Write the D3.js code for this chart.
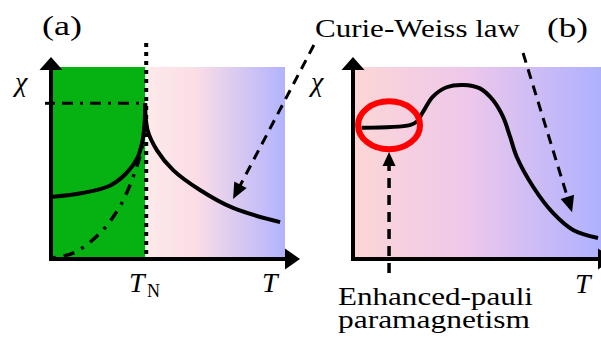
<!DOCTYPE html>
<html>
<head>
<meta charset="utf-8">
<script src="https://cdn.jsdelivr.net/npm/d3@7"></script>
<style>
  body { margin: 0; background: #fff; }
</style>
</head>
<body>
<div class="dataviz"></div>
<script>
// schematic values, both axes on a 0..100 scale

// panel (a): antiferromagnet
const tN = 40
const chiPeak = 81
const afmPowder = [[0, 32], [13, 34], [25, 38], [32, 44.5], [36.5, 52], [38.8, 61], [39.7, 70], [40, 81]]
const afmParallel = [[0.4, 0], [9.9, 3], [20.6, 13], [29, 26.7], [34.8, 42.4], [38.6, 58], [40, 79]]
const curieWeissA = [[40, 81], [41, 67], [45, 56.5], [52, 46], [63.5, 35.6], [77.7, 26.2], [97.9, 18.8]]

// panel (b): enhanced pauli + broad maximum + Curie-Weiss tail
const chiB = [[2.7, 68.2], [22.4, 69.6], [25.2, 71.4], [27.8, 76.6], [31.8, 84.5], [37.4, 89.4], [44.1, 90.6],
  [51, 88.8], [56.3, 82.7], [60.4, 74], [63.3, 63.5], [66, 53], [72.7, 37.3], [80.8, 23.6], [89, 14.7], [99.2, 10.5]]
const pauliMark = { x: 13.9, y: 69.5 }

// annotation arrows [from, to] in each panel's data units
const cwArrowA = [[112.4, 111.5], [77.7, 30.9]]
const cwArrowB = [[68.6, 107.3], [88.6, 24]]
const pauliArrow = [[13.9, -7.9], [13.9, 55.5]]

const W = 601
const H = 340
const serif = "'Liberation Serif', 'Times New Roman', Tinos, Times, serif"

const svg = d3.select('.dataviz').append('svg').attr('width', W).attr('height', H)
  .style('display', 'block')
const defs = svg.append('defs')

const gradient = (id, stops) => {
  const g = defs.append('linearGradient').attr('id', id)
  stops.forEach(([o, c]) => g.append('stop').attr('offset', o).attr('stop-color', c))
}
gradient('gradA', [[0, '#fde9ea'], [0.35, '#fbdde6'], [1, '#b2b3fe']])
gradient('gradB', [[0, '#fcd6d6'], [0.45, '#eec8ea'], [1, '#afb1ff']])

// scales
const y = d3.scaleLinear().domain([0, 100]).range([258, 67])
const xA = d3.scaleLinear().domain([0, 100]).range([52, 285])
const xB = d3.scaleLinear().domain([0, 100]).range([355, 600])

// backgrounds
svg.append('rect')
  .attr('x', xA(0)).attr('y', y(100))
  .attr('width', xA(tN) - xA(0)).attr('height', y(0) - y(100))
  .attr('fill', '#06b112')
svg.append('rect')
  .attr('x', xA(tN) + 3).attr('y', y(100))
  .attr('width', xA(100) - xA(tN) - 3).attr('height', y(0) - y(100))
  .attr('fill', 'url(#gradA)')
svg.append('rect')
  .attr('x', xB(0)).attr('y', y(100))
  .attr('width', W - xB(0)).attr('height', y(0) - y(100))
  .attr('fill', 'url(#gradB)')

const curve = x => d3.line().curve(d3.curveCatmullRom.alpha(0.5)).x(d => x(d[0])).y(d => y(d[1]))

// panel (a) curves
svg.append('line')
  .attr('x1', xA(tN) + 1).attr('x2', xA(tN) + 1)
  .attr('y1', y(100) - 24).attr('y2', y(0))
  .attr('stroke', '#000').attr('stroke-width', 4).attr('stroke-dasharray', '4,5')

svg.append('line')
  .attr('x1', xA(0) - 7).attr('x2', xA(0))
  .attr('y1', y(chiPeak)).attr('y2', y(chiPeak))
  .attr('stroke', '#000').attr('stroke-width', 3)
svg.append('line')
  .attr('x1', xA(0)).attr('x2', xA(tN))
  .attr('y1', y(chiPeak)).attr('y2', y(chiPeak))
  .attr('stroke', '#000').attr('stroke-width', 3).attr('stroke-dasharray', '3,7,11,7')

svg.append('path').datum(afmParallel).attr('d', curve(xA))
  .attr('fill', 'none').attr('stroke', '#000').attr('stroke-width', 3.5).attr('stroke-dasharray', '3,8,11,8')
svg.append('path').datum(afmPowder).attr('d', curve(xA))
  .attr('fill', 'none').attr('stroke', '#000').attr('stroke-width', 4)
svg.append('path').datum(curieWeissA).attr('d', curve(xA))
  .attr('fill', 'none').attr('stroke', '#000').attr('stroke-width', 4)

// panel (b) curve + marker
svg.append('path').datum(chiB).attr('d', curve(xB))
  .attr('fill', 'none').attr('stroke', '#000').attr('stroke-width', 4)
svg.append('ellipse')
  .attr('cx', xB(pauliMark.x)).attr('cy', y(pauliMark.y))
  .attr('rx', 31).attr('ry', 24)
  .attr('fill', 'none').attr('stroke', '#f00').attr('stroke-width', 6)

// arrows
const head = (tip, from, len, half) => {
  const a = Math.atan2(tip[1] - from[1], tip[0] - from[0])
  const bx = tip[0] - len * Math.cos(a)
  const by = tip[1] - len * Math.sin(a)
  const nx = -Math.sin(a) * half
  const ny = Math.cos(a) * half
  return `M${tip[0]},${tip[1]}L${bx + nx},${by + ny}L${bx - nx},${by - ny}Z`
}

const arrow = (p0, p1, dashed, width, len, half) => {
  const a = Math.atan2(p1[1] - p0[1], p1[0] - p0[0])
  const end = [p1[0] - (len - 2) * Math.cos(a), p1[1] - (len - 2) * Math.sin(a)]
  svg.append('line')
    .attr('x1', p0[0]).attr('y1', p0[1]).attr('x2', end[0]).attr('y2', end[1])
    .attr('stroke', '#000').attr('stroke-width', width)
    .attr('stroke-dasharray', dashed ? '10,7' : null)
  svg.append('path').attr('d', head(p1, p0, len, half)).attr('fill', '#000')
}

// axes
arrow([xA(0) - 1, y(0) + 3], [xA(0) - 1, y(100) - 10], false, 4, 13, 11.5)
arrow([xA(0) - 3, y(0) + 1], [xA(100) + 15, y(0) + 1], false, 4, 15, 10.5)
arrow([xB(0) - 2, y(0) + 3], [xB(0) - 2, y(100) - 10], false, 4, 13, 11.5)
arrow([xB(0) - 4, y(0) + 1], [W + 12, y(0) + 1], false, 4, 15, 10.5)

const pt = (x, d) => [x(d[0]), y(d[1])]
arrow(pt(xA, cwArrowA[0]), pt(xA, cwArrowA[1]), true, 3, 16, 7)
arrow(pt(xB, cwArrowB[0]), pt(xB, cwArrowB[1]), true, 3, 16, 7)
arrow(pt(xB, pauliArrow[0]), pt(xB, pauliArrow[1]), true, 3.5, 14, 6.5)

// labels
const label = (txt, x, yy, size, opts = {}) => {
  const t = svg.append('text').attr('x', x).attr('y', yy)
    .attr('font-family', serif)
    .attr('font-size', size).attr('fill', '#000').text(txt)
  if (opts.italic) t.attr('font-style', 'italic')
  if (opts.len) t.attr('textLength', opts.len).attr('lengthAdjust', 'spacingAndGlyphs')
  return t
}

label('(a)', 42, 35, 28, { len: 40 })
label('(b)', 547, 37, 28, { len: 41 })
label('Curie-Weiss law', 315, 37, 26, { len: 205 })
label('Enhanced-pauli', 338, 305, 25, { len: 195 })
label('paramagnetism', 338, 328, 25, { len: 192 })

label('χ', 15, 91, 28, { italic: true })
label('χ', 311, 91, 28, { italic: true })
label('T', 129, 292, 28, { italic: true })
label('N', 147, 297, 18)
label('T', 262, 292, 28, { italic: true })
label('T', 575, 293, 28, { italic: true })
</script>
</body>
</html>
